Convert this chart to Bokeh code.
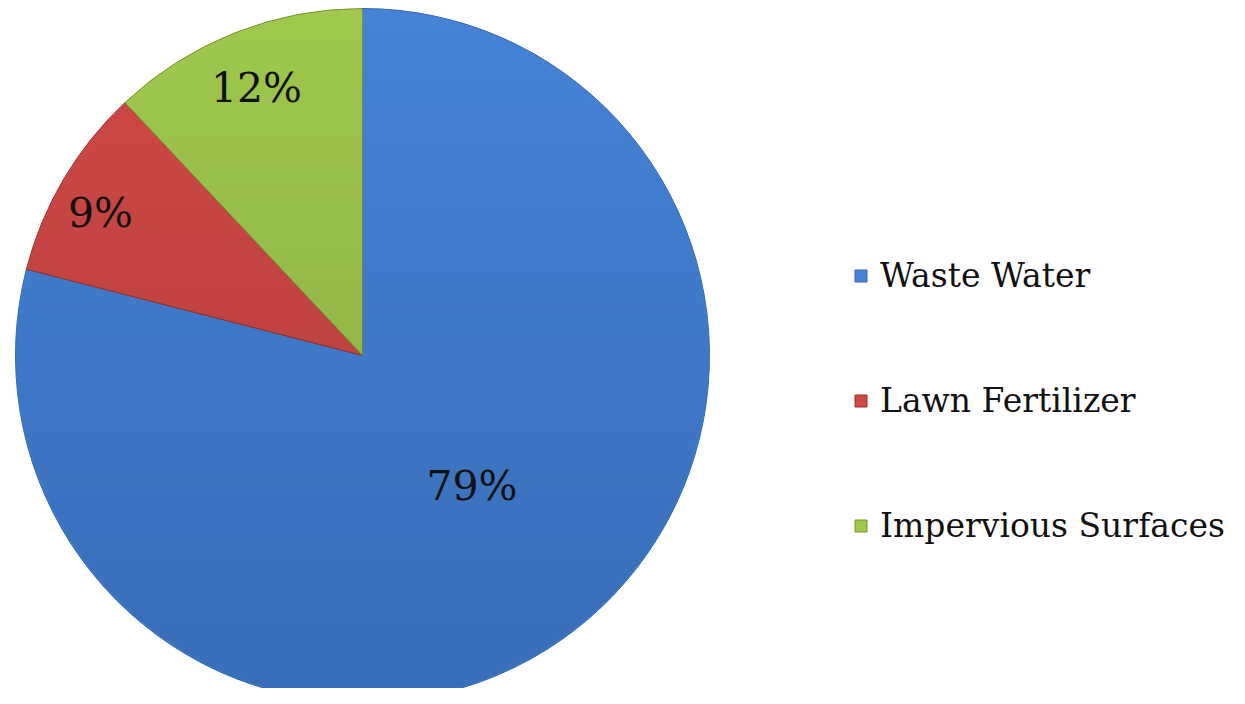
import math
import numpy as np
from bokeh.plotting import figure
from bokeh.models import Legend, LegendItem, ColumnDataSource
from bokeh.core.properties import value
from bokeh.embed import file_html
from bokeh.resources import INLINE

categories = ["Waste Water", "Lawn Fertilizer", "Impervious Surfaces"]
shares = [79, 9, 12]
labels = ["79%", "9%", "12%"]
colors = ["#4483d6", "#d04945", "#a0c84d"]
edge_colors = ["#3467ad", "#9a3330", "#76942f"]

W, H = 1229, 688
CX, CY, R = 362, 333, 347
FONT = "DejaVu Serif"

p = figure(width=W, height=H, x_range=(0, W), y_range=(0, H),
           output_backend="svg", toolbar_location=None,
           min_border=0, outline_line_color=None)
p.axis.visible = False
p.grid.visible = False
p.background_fill_color = "white"

total = sum(shares)
starts, ends, mids = [], [], []
acc = 0.0
for s in shares:
    a0 = math.pi / 2 - 2 * math.pi * acc / total
    acc += s
    a1 = math.pi / 2 - 2 * math.pi * acc / total
    starts.append(a0)
    ends.append(a1)
    mids.append((a0 + a1) / 2)

renderers = []
for i in range(len(categories)):
    src = ColumnDataSource(dict(x=[CX], y=[CY], start=[starts[i]], end=[ends[i]]))
    r = p.wedge(x="x", y="y", radius=R, start_angle="start", end_angle="end",
                direction="clock", fill_color=colors[i], line_color=edge_colors[i],
                line_width=1, source=src)
    renderers.append(r)

# vertical shading overlay (darker toward the bottom), masked to the pie disc
n = 2 * R
yy, xx = np.mgrid[0:n, 0:n]
cx = cy = (n - 1) / 2
inside = (xx - cx) ** 2 + (yy - cy) ** 2 <= (R - 1) ** 2
alpha = (0.17 * (1 - yy / (n - 1)))  # row 0 is bottom in image coordinates
img = np.zeros((n, n), dtype=np.uint32)
view = img.view(dtype=np.uint8).reshape((n, n, 4))
view[..., 2] = 30
view[..., 3] = np.where(inside, (alpha * 255).astype(np.uint8), 0)
p.image_rgba(image=[img], x=CX - R, y=CY - R, dw=n, dh=n)

# data labels (placed along each slice's mid-angle)
label_radius = [0.49, 0.86, 0.83]
label_turn = [0.04, 0.035, 0.0]  # small angular nudge, radians
lx = [CX + R * f * math.cos(m + d) for f, m, d in zip(label_radius, mids, label_turn)]
ly = [CY + R * f * math.sin(m + d) for f, m, d in zip(label_radius, mids, label_turn)]
lsrc = ColumnDataSource(dict(x=lx, y=ly, t=labels))
p.text(x="x", y="y", text="t", source=lsrc, text_font=value(FONT),
       text_font_size="41px", text_align="center", text_baseline="middle",
       text_color="#111111")

legend = Legend(items=[LegendItem(label=c, renderers=[r]) for c, r in zip(categories, renderers)],
                location=(853, 143), orientation="vertical",
                label_text_font=FONT, label_text_font_size="33px",
                label_text_color="#111111", glyph_width=15, glyph_height=15,
                label_standoff=12, spacing=86, padding=0, margin=0,
                border_line_color=None, background_fill_alpha=0)
p.add_layout(legend, "center")

open("out.html", "w").write(file_html(p, INLINE))
